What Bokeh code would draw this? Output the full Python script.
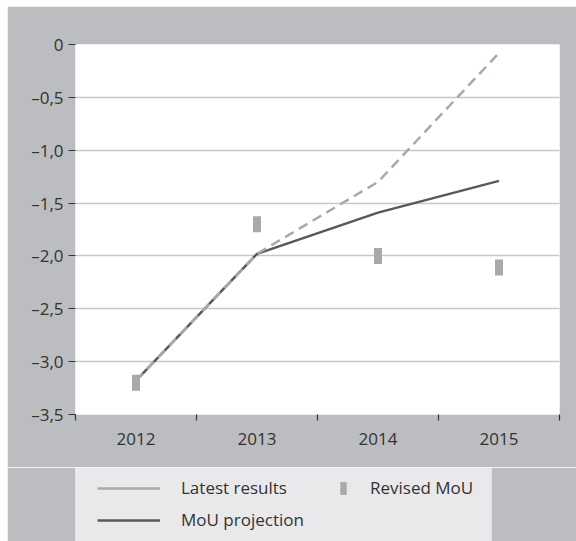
from bokeh.plotting import figure
from bokeh.models import FixedTicker, Range1d, Legend, LegendItem, Spacer
from bokeh.layouts import column, row
from bokeh.embed import file_html
from bokeh.resources import INLINE

years = [2012, 2013, 2014, 2015]
latest_results = [-3.18, -1.98, -1.30, -0.08]
mou_projection = [-3.18, -1.98, -1.59, -1.29]
revised_mou = [-3.20, -1.70, -2.00, -2.11]
y_ticks = [0, -0.5, -1.0, -1.5, -2.0, -2.5, -3.0, -3.5]
y_labels = ["0", "\u20130,5", "\u20131,0", "\u20131,5", "\u20132,0", "\u20132,5", "\u20133,0", "\u20133,5"]

BG = "#bcbdc0"
LEG_BG = "#e9e9eb"
LIGHT = "#a8a9ab"
DARK = "#58595b"
TXT = "#333333"
FONT = "Open Sans"
FS = "17px"

W = 569
p = figure(width=W, height=461, output_backend="svg", toolbar_location=None,
           x_range=Range1d(years[0] - 0.5, years[-1] + 0.5), y_range=Range1d(-3.5, 0),
           min_border_left=68, min_border_right=17, min_border_top=38, min_border_bottom=53)
p.frame_align = False
p.border_fill_color = BG
p.background_fill_color = "white"
p.outline_line_color = None

# gridlines
p.xgrid.visible = False
p.ygrid.ticker = FixedTicker(ticks=y_ticks)
p.ygrid.grid_line_color = "#c8c8c8"
p.ygrid.grid_line_width = 1.5

# y axis
ya = p.yaxis[0]
ya.ticker = FixedTicker(ticks=y_ticks)
ya.major_label_overrides = {t: l for t, l in zip(y_ticks, y_labels)}
ya.axis_line_color = None
ya.major_tick_line_color = TXT
ya.major_tick_line_width = 1.2
ya.major_tick_out = 7
ya.major_tick_in = 0
ya.minor_tick_line_color = None
ya.major_label_text_font = FONT
ya.major_label_text_font_size = FS
ya.major_label_text_color = TXT
ya.major_label_standoff = 5

# x axis: labels at category centres, ticks at boundaries
xa = p.xaxis[0]
xa.ticker = FixedTicker(ticks=years, minor_ticks=[y - 0.5 for y in years] + [years[-1] + 0.5])
xa.major_label_overrides = {y: str(y) for y in years}
xa.axis_line_color = None
xa.major_tick_line_color = None
xa.major_tick_out = 0
xa.major_tick_in = 0
xa.minor_tick_line_color = TXT
xa.minor_tick_line_width = 1.2
xa.minor_tick_out = 6
xa.minor_tick_in = 0
xa.major_label_text_font = FONT
xa.major_label_text_font_size = FS
xa.major_label_text_color = TXT
xa.major_label_standoff = 12

p.line(years, mou_projection, line_color=DARK, line_width=2.5)
p.line(years, latest_results, line_color=LIGHT, line_width=2.5, line_dash="10 6")
p.rect(years, revised_mou, width=8, height=16, width_units="screen", height_units="screen",
       fill_color=LIGHT, line_color=None)

# legend strip
leg = figure(width=W, height=74, output_backend="svg", toolbar_location=None,
             x_range=Range1d(0, 1), y_range=Range1d(0, 1),
             min_border_left=68, min_border_right=85, min_border_top=0, min_border_bottom=0)
leg.frame_align = False
leg.border_fill_color = BG
leg.background_fill_color = LEG_BG
leg.outline_line_color = None
leg.xaxis.visible = False
leg.yaxis.visible = False
leg.grid.visible = False

# legend-only renderers, placed outside the visible range
r_latest = leg.line([-5, -4], [-5, -4], line_color=LIGHT, line_width=2.5)
r_mou = leg.line([-5, -4], [-5, -4], line_color=DARK, line_width=2.5)
r_rev = leg.rect([-5], [-5], width=0.1, height=0.1, fill_color=LIGHT, line_color=None)

legA = Legend(items=[LegendItem(label="Latest results", renderers=[r_latest]),
                     LegendItem(label="MoU projection", renderers=[r_mou])],
              location=(22, 10), padding=0, margin=0, spacing=9,
              glyph_width=63, glyph_height=22, label_height=22, label_standoff=21,
              background_fill_alpha=0, border_line_color=None,
              label_text_font=FONT, label_text_font_size=FS, label_text_color=TXT)
legB = Legend(items=[LegendItem(label="Revised MoU", renderers=[r_rev])],
              location=(264, 42), padding=0, margin=0,
              glyph_width=8, glyph_height=16, label_height=16, label_standoff=23,
              background_fill_alpha=0, border_line_color=None,
              label_text_font=FONT, label_text_font_size=FS, label_text_color=TXT)
leg.add_layout(legA, "center")
leg.add_layout(legB, "center")

layout = column(Spacer(height=6, width=576),
                row(Spacer(width=7, height=535), column(p, leg, spacing=0), spacing=0),
                spacing=0)
open("out.html", "w").write(file_html(layout, INLINE))
